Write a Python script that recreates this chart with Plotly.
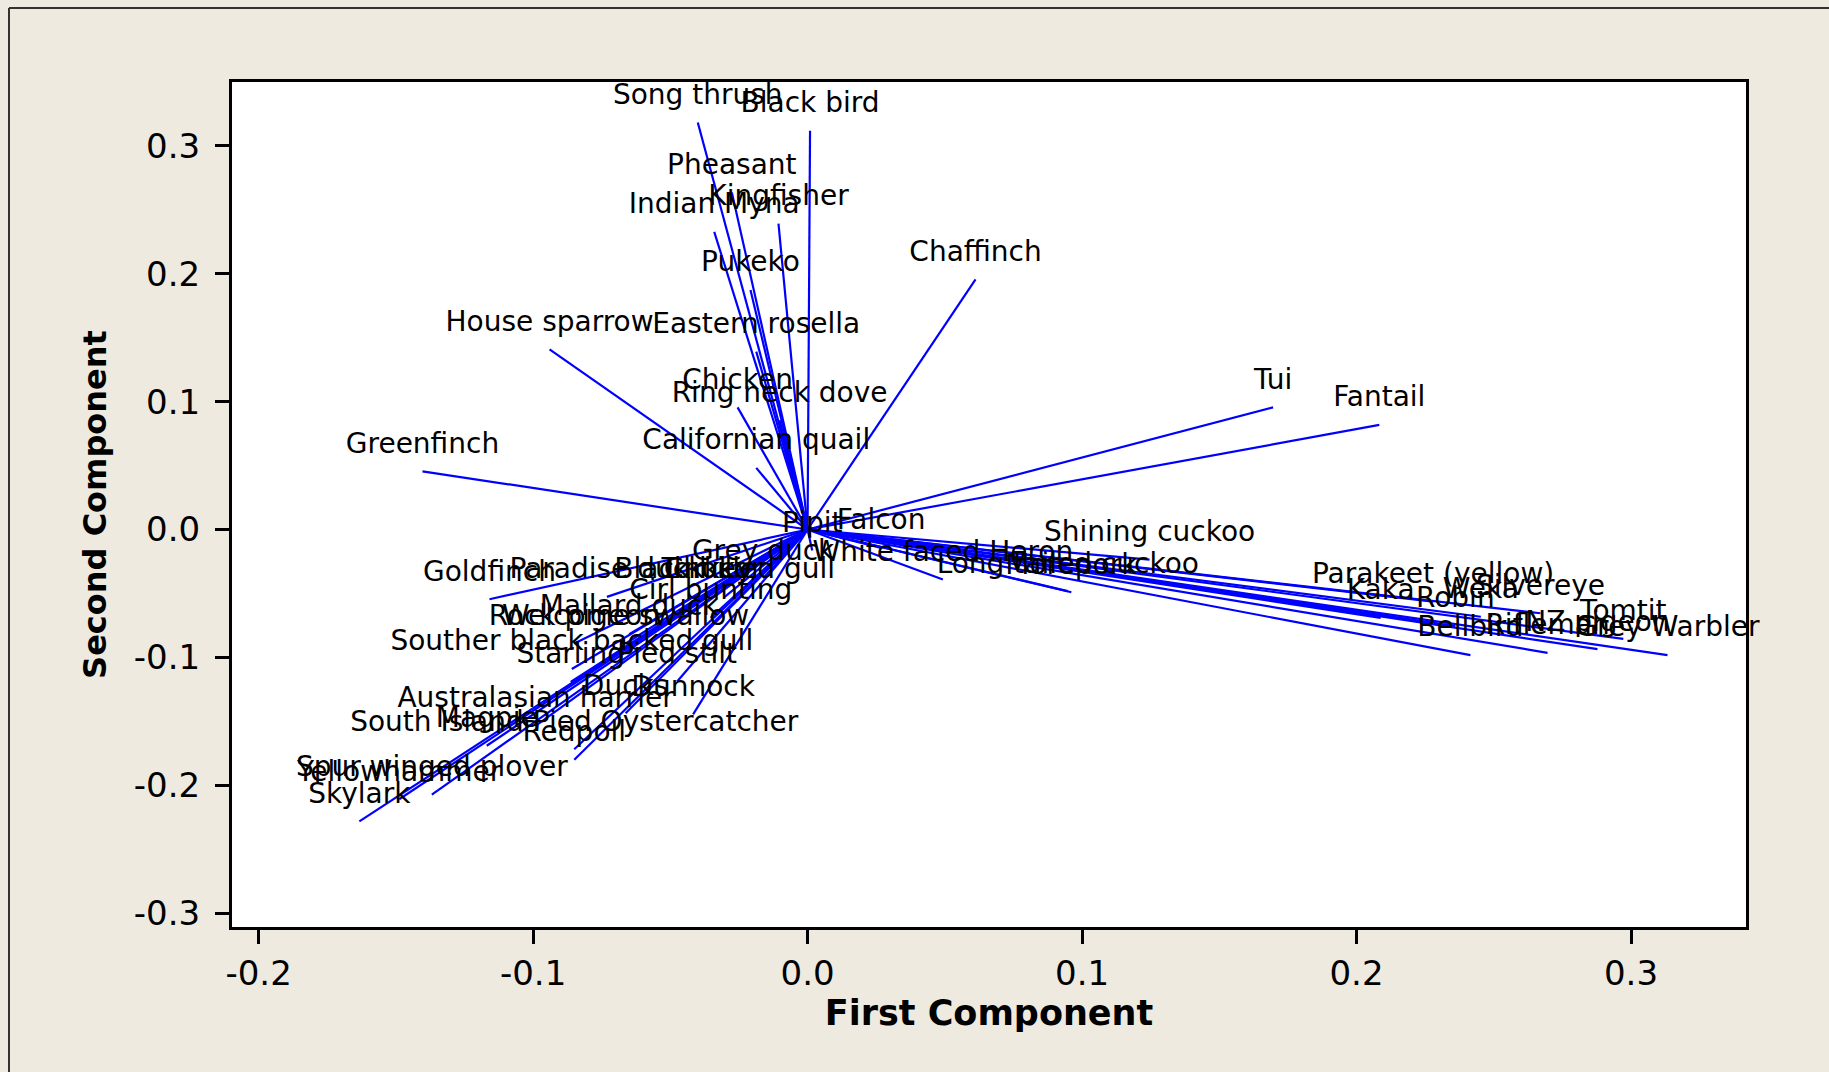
import plotly.graph_objects as go

# Loadings of each bird species on the first two principal components
species = [
    "Song thrush", "Black bird", "Pheasant", "Indian Myna", "Kingfisher",
    "Pukeko", "Eastern rosella", "Chicken", "Ring neck dove", "Californian quail",
    "Chaffinch", "House sparrow", "Greenfinch", "Tui", "Fantail",
    "Pipit", "Falcon", "Grey duck", "White faced Heron", "Shining cuckoo",
    "Long tailed cuckoo", "Morepork",
    "Parakeet (yellow)", "Kaka", "Weka", "Silvereye", "Robin", "Tomtit",
    "Bellbird", "Rifleman", "NZ pigeon", "Grey Warbler",
    "Goldfinch", "Paradise duck", "Black billed gull", "Turkey", "Chukor",
    "Cirl bunting", "Mallard duck", "Rock pigeon", "Welcome swallow",
    "Souther black backed gull", "Starling", "Pied stilt", "Ducks", "Dunnock",
    "Australasian harrier", "South Island Pied Oystercatcher", "Magpie",
    "Redpoll", "Spur winged plover", "Yellowhammer", "Skylark",
]

first_component = [
    -0.0400, 0.0009, -0.0276, -0.0340, -0.0106,
    -0.0208, -0.0187, -0.0255, -0.0102, -0.0187,
    0.0612, -0.0940, -0.1403, 0.1696, 0.2083,
    0.0017, 0.0268, -0.0162, 0.0493, 0.1246,
    0.0948, 0.0961,
    0.2279, 0.2088, 0.2453, 0.2670, 0.2360, 0.2972,
    0.2415, 0.2696, 0.2878, 0.3133,
    -0.1159, -0.0731, -0.0302, -0.0366, -0.0344,
    -0.0353, -0.0650, -0.0850, -0.0663,
    -0.0859, -0.0863, -0.0476, -0.0663, -0.0417,
    -0.0991, -0.0850, -0.1169,
    -0.0850, -0.1369, -0.1488, -0.1633,
]

second_component = [
    0.3182, 0.3118, 0.2636, 0.2327, 0.2391,
    0.1873, 0.1391, 0.0955, 0.0855, 0.0482,
    0.1955, 0.1409, 0.0455, 0.0955, 0.0818,
    -0.0164, -0.0145, -0.0382, -0.0391, -0.0236,
    -0.0482, -0.0491,
    -0.0564, -0.0691, -0.0682, -0.0655, -0.0755, -0.0855,
    -0.0982, -0.0964, -0.0936, -0.0982,
    -0.0545, -0.0527, -0.0527, -0.0527, -0.0527,
    -0.0691, -0.0818, -0.0891, -0.0891,
    -0.1091, -0.1191, -0.1191, -0.1436, -0.1445,
    -0.1536, -0.1718, -0.1691,
    -0.1800, -0.2073, -0.2109, -0.2282,
]

x_ticks = [-0.2, -0.1, 0.0, 0.1, 0.2, 0.3]
y_ticks = [-0.3, -0.2, -0.1, 0.0, 0.1, 0.2, 0.3]

W, H = 1829, 1072
M_L, M_R, M_T, M_B = 232, 83, 82, 145

# one polyline: origin -> loading, separated by gaps
seg_x, seg_y = [], []
for px, py in zip(first_component, second_component):
    seg_x += [0, px, None]
    seg_y += [0, py, None]

fig = go.Figure()
fig.add_trace(go.Scatter(
    x=seg_x, y=seg_y, mode="lines",
    line=dict(color="#0000FF", width=2.2),
    hoverinfo="skip", showlegend=False,
))
fig.add_trace(go.Scatter(
    x=first_component, y=second_component, mode="markers+text",
    text=species, textposition="top center",
    marker=dict(size=17, opacity=0),
    textfont=dict(family="DejaVu Sans", size=28, color="#000000"),
    cliponaxis=False, showlegend=False,
))

pw = W - M_L - M_R
ph = H - M_T - M_B
bx = (9 - M_L) / pw          # outer window border, left edge
by = (H - M_B - 8) / ph      # outer window border, top edge

fig.update_layout(
    width=W, height=H,
    margin=dict(l=M_L, r=M_R, t=M_T, b=M_B, autoexpand=False),
    paper_bgcolor="#EEEAE0",
    plot_bgcolor="#FFFFFF",
    font=dict(family="DejaVu Sans", color="#000000"),
    shapes=[
        dict(type="line", xref="paper", yref="paper", x0=bx, x1=bx, y0=-1, y1=by,
             line=dict(color="#333333", width=2)),
        dict(type="line", xref="paper", yref="paper", x0=bx, x1=2, y0=by, y1=by,
             line=dict(color="#333333", width=2)),
    ],
)
fig.update_xaxes(
    range=[-0.2097, 0.3419], tickvals=x_ticks,
    ticktext=[f"{v:.1f}" for v in x_ticks],
    showgrid=False, zeroline=False,
    showline=True, linecolor="#000000", linewidth=3, mirror=True,
    ticks="outside", ticklen=14, tickwidth=2.5, tickcolor="#000000",
    tickfont=dict(family="DejaVu Sans", size=34),
    title=dict(text="<b>First Component</b>", standoff=7,
               font=dict(family="DejaVu Sans", size=35)),
)
fig.update_yaxes(
    range=[-0.3108, 0.3499], tickvals=y_ticks,
    ticktext=[f"{v:.1f}" for v in y_ticks],
    showgrid=False, zeroline=False,
    showline=True, linecolor="#000000", linewidth=3, mirror=True,
    ticks="outside", ticklen=14, tickwidth=2.5, tickcolor="#000000",
    ticklabelstandoff=8,
    tickfont=dict(family="DejaVu Sans", size=34),
    title=dict(text="<b>Second Component</b>", standoff=18,
               font=dict(family="DejaVu Sans", size=32)),
)

fig.write_html("out.html")
